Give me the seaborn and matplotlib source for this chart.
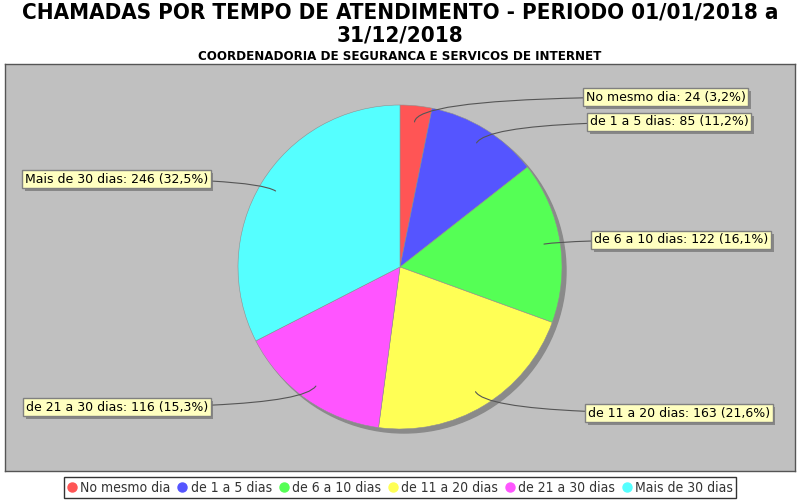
import numpy as np
import seaborn as sns
import matplotlib.pyplot as plt
import matplotlib.patheffects as pe
from matplotlib.lines import Line2D

# dados
categorias = ['No mesmo dia', 'de 1 a 5 dias', 'de 6 a 10 dias',
              'de 11 a 20 dias', 'de 21 a 30 dias', 'Mais de 30 dias']
chamadas = [24, 85, 122, 163, 116, 246]
percentuais = ['3,2%', '11,2%', '16,1%', '21,6%', '15,3%', '32,5%']
cores = ['#FF5555', '#5555FF', '#55FF55', '#FFFF55', '#FF55FF', '#55FFFF']

# posicao das caixas de rotulo (pixels da imagem: x da borda, y do centro, lado)
pos_rotulos = [(586, 97, 'left'), (590, 122, 'left'), (594, 240, 'left'),
               (588, 413, 'left'), (208, 407, 'right'), (208, 179, 'right')]

sns.set_theme(style='white')
plt.rcParams['font.family'] = ['DejaVu Sans']
plt.rcParams['text.color'] = 'black'

H = 500
fig = plt.figure(figsize=(8, 5), dpi=100)
fig.patch.set_facecolor('white')

# area do grafico em coordenadas de pixel
ax = fig.add_axes([5 / 800, 29 / H, 790 / 800, 407 / H])
ax.set_facecolor('#C0C0C0')

cx, cy, R = 400, H - 267, 162
# sombra
ax.add_patch(plt.Circle((cx + 4, cy - 4), R, color='#8A8A8A', zorder=1))

paleta = sns.color_palette(cores)
wedges, _ = ax.pie(chamadas, colors=paleta, startangle=90, counterclock=False,
                   center=(cx, cy), radius=R, frame=True,
                   wedgeprops=dict(edgecolor='#909090', linewidth=0.4, zorder=2))
ax.set_xlim(5, 795)
ax.set_ylim(H - 471, H - 64)
ax.set_aspect('equal')
ax.set_xticks([])
ax.set_yticks([])
for s in ax.spines.values():
    s.set_color('#555555')
    s.set_linewidth(1)

for w, cat, n, p, (lx, ly, lado) in zip(wedges, categorias, chamadas, percentuais, pos_rotulos):
    ang = np.deg2rad((w.theta1 + w.theta2) / 2)
    px = cx + 0.9 * R * np.cos(ang)
    py = cy + 0.9 * R * np.sin(ang)
    ann = ax.annotate(f'{cat}: {n} ({p})', xy=(px, py), xytext=(lx, H - ly),
                      ha=lado, va='center', fontsize=9, color='black', zorder=5,
                      bbox=dict(boxstyle='square,pad=0.2', fc='#FFFFC0', ec='#808080', lw=1),
                      arrowprops=dict(arrowstyle='-', color='#555555', lw=0.8,
                                      connectionstyle=f'angle3,angleA=0,angleB={np.rad2deg(ang):.1f}',
                                      shrinkA=0, shrinkB=0))
    ann.get_bbox_patch().set_path_effects([
        pe.SimplePatchShadow(offset=(2, -2), shadow_rgbFace='#707070', alpha=0.7),
        pe.Normal()])

# titulos
fig.text(0.5, 1 - 3 / H, 'CHAMADAS POR TEMPO DE ATENDIMENTO - PERIODO 01/01/2018 a\n31/12/2018',
         ha='center', va='top', fontsize=16, fontweight='bold', fontstretch='condensed',
         color='black', linespacing=1.13)
fig.text(0.5, 1 - 56 / H, 'COORDENADORIA DE SEGURANCA E SERVICOS DE INTERNET',
         ha='center', va='center', fontsize=9.5, fontweight='bold', fontstretch='condensed',
         color='black')

# legenda
handles = [Line2D([], [], marker='o', linestyle='', markersize=6.5, markerfacecolor=c,
                  markeredgecolor=c) for c in cores]
leg = fig.legend(handles, categorias, loc='center', bbox_to_anchor=(0.5, 1 - 487.5 / H),
                 ncol=6, frameon=True, fancybox=False, edgecolor='black',
                 handlelength=0.7, handletextpad=0.25, columnspacing=0.5, borderpad=0.25,
                 borderaxespad=0, prop=dict(size=10, stretch='condensed'))
for t in leg.get_texts():
    t.set_color('#333333')
leg.get_frame().set_linewidth(1)

fig.savefig('out.png', dpi=100)
